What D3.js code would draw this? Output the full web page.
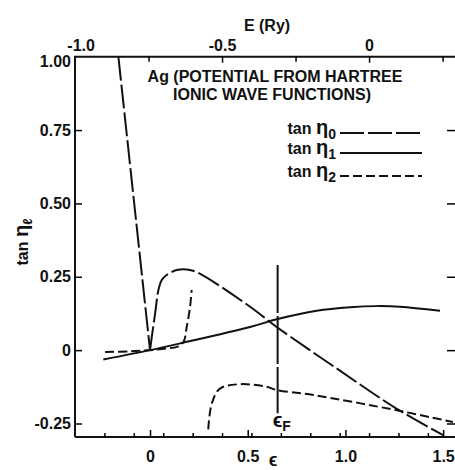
<!DOCTYPE html>
<html>
<head>
<meta charset="utf-8">
<script src="https://cdn.jsdelivr.net/npm/d3@7"></script>
<style>
  body { margin: 0; background: #fff; }
  text { font-family: "Liberation Sans Narrow", "Liberation Sans", Arial, sans-serif; font-weight: bold; fill: #111; }
</style>
</head>
<body>
<div id="chart"></div>
<script>
// tick values and labels
var yTicks = [-0.25, 0, 0.25, 0.5, 0.75, 1.0];
var yTickLabels = ["-0.25", "0", "0.25", "0.50", "0.75", "1.00"];
var epsTicks = [0, 0.5, 1.0, 1.5];
var epsTickLabels = ["0", "0.5", "1.0", "1.5"];
var eTicks = [-1.0, -0.5, 0];
var eTickLabels = ["-1.0", "-0.5", "0"];
var eMinorTop = [-0.75, -0.25, 0.25];
var eMinorBottom = [-0.9, -0.8, -0.7, -0.6, -0.5, -0.4, -0.3, -0.2, -0.1, 0, 0.1, 0.2];
var epsFermi = 0.653;

// curves as [epsilon, tan eta]
var eta0Left = [[-0.162, 1.0], [0, 0]];
var eta0Right = [[0, 0], [0.009, 0.045], [0.026, 0.125], [0.043, 0.205], [0.060, 0.239], [0.085, 0.256],
  [0.137, 0.273], [0.188, 0.275], [0.238, 0.266], [0.512, 0.148], [0.648, 0.079], [0.95, -0.06],
  [1.263, -0.200], [1.5, -0.290]];
var eta1 = [[-0.239, -0.032], [0, 0], [0.154, 0.023], [0.512, 0.079], [0.648, 0.105], [0.853, 0.134],
  [1.024, 0.146], [1.160, 0.150], [1.279, 0.148], [1.484, 0.134]];
var eta2Upper = [[-0.230, -0.006], [-0.1, -0.004], [0, 0], [0.09, 0.006], [0.137, 0.011], [0.171, 0.028],
  [0.188, 0.08], [0.205, 0.148], [0.213, 0.205]];
var eta2Lower = [[0.298, -0.27], [0.316, -0.182], [0.358, -0.131], [0.461, -0.116], [0.597, -0.125],
  [0.648, -0.136], [0.836, -0.153], [1.263, -0.205], [1.55, -0.245]];

var svgWidth = 455;
var svgHeight = 470;

var svg = d3.select("#chart")
  .append("svg")
  .attr("width", svgWidth)
  .attr("height", svgHeight);

var plotLeft = 75, plotRight = 457, plotTop = 56.7, plotBottom = 437;

var x = d3.scaleLinear().domain([-0.384, 1.571]).range([plotLeft, plotRight]);
var xE = d3.scaleLinear().domain([-1.0, 0.299]).range([plotLeft, plotRight]);
var y = d3.scaleLinear().domain([-0.296, 1.0]).range([plotBottom, plotTop]);

// frame
svg.append("path")
  .attr("d", `M${plotLeft},${plotBottom}V${plotTop}H${plotRight}V${plotBottom}H${plotLeft}`)
  .attr("fill", "none")
  .attr("stroke", "#111")
  .attr("stroke-width", 2);

// left axis, ticks pointing in
var leftAxis = d3.axisLeft(y)
  .tickValues(yTicks)
  .tickFormat((d, i) => yTickLabels[i])
  .tickSize(-7)
  .tickSizeOuter(0)
  .tickPadding(4);
var gl = svg.append("g").attr("transform", `translate(${plotLeft},0)`).call(leftAxis);
gl.select(".domain").remove();
gl.selectAll("line").attr("stroke-width", 1.5).filter(d => d === 1.0).remove();
gl.selectAll("text").attr("font-size", "16px").attr("font-family", null)
  .filter(d => d === 1.0).attr("dy", "0.6em");

// right axis: only inward ticks
var rightAxis = d3.axisRight(y).tickValues(yTicks.slice(0, 5)).tickFormat("").tickSize(-10).tickSizeOuter(0);
var gr = svg.append("g").attr("transform", `translate(${plotRight},0)`).call(rightAxis);
gr.select(".domain").remove();
gr.selectAll("line").attr("stroke-width", 1.5);

// bottom axis: epsilon major ticks + minor E ticks
var bottomAxis = d3.axisBottom(x)
  .tickValues(epsTicks)
  .tickFormat((d, i) => epsTickLabels[i])
  .tickSize(-7)
  .tickSizeOuter(0)
  .tickPadding(14);
var gb = svg.append("g").attr("transform", `translate(0,${plotBottom})`).call(bottomAxis);
gb.select(".domain").remove();
gb.selectAll("line").attr("stroke-width", 1.5);
gb.selectAll("text").attr("font-size", "16px").attr("font-family", null);

var bottomMinor = d3.axisBottom(xE).tickValues(eMinorBottom).tickFormat("").tickSize(-4).tickSizeOuter(0);
var gbm = svg.append("g").attr("transform", `translate(0,${plotBottom})`).call(bottomMinor);
gbm.select(".domain").remove();
gbm.selectAll("line").attr("stroke-width", 1.5);

// top axis: E (Ry)
var topAxis = d3.axisTop(xE)
  .tickValues(eTicks)
  .tickFormat((d, i) => eTickLabels[i])
  .tickSize(-6)
  .tickSizeOuter(0)
  .tickPadding(6);
var gt = svg.append("g").attr("transform", `translate(0,${plotTop})`).call(topAxis);
gt.select(".domain").remove();
gt.selectAll("line").attr("stroke-width", 1.5).filter(d => d === -1.0).remove();
gt.selectAll("text").attr("font-size", "16px").attr("font-family", null)
  .filter(d => d === -1.0).attr("dx", "0.35em");

var topMinor = d3.axisTop(xE).tickValues(eMinorTop).tickFormat("").tickSize(-5).tickSizeOuter(0);
var gtm = svg.append("g").attr("transform", `translate(0,${plotTop})`).call(topMinor);
gtm.select(".domain").remove();
gtm.selectAll("line").attr("stroke-width", 1.5);

// axis titles
svg.append("text")
  .attr("x", 267).attr("y", 31)
  .attr("text-anchor", "middle")
  .attr("font-size", "16px")
  .text("E (Ry)");

svg.append("text")
  .attr("x", 273).attr("y", 466)
  .attr("text-anchor", "middle")
  .attr("font-size", "18px")
  .text("ϵ");

var ylab = svg.append("text")
  .attr("transform", "translate(28, 242) rotate(-90)")
  .attr("text-anchor", "middle")
  .attr("font-size", "16px");
ylab.append("tspan").text("tan ");
ylab.append("tspan").attr("font-size", "20px").text("η");
ylab.append("tspan").attr("dy", 4).attr("font-size", "13px").text("ℓ");

// title
svg.append("text")
  .attr("x", 275).attr("y", 82)
  .attr("text-anchor", "middle")
  .attr("font-size", "16px")
  .text("Ag (POTENTIAL FROM HARTREE");
svg.append("text")
  .attr("x", 272).attr("y", 100)
  .attr("text-anchor", "middle")
  .attr("font-size", "16px")
  .text("IONIC WAVE FUNCTIONS)");

// curves
var line = d3.line()
  .x(d => x(d[0]))
  .y(d => y(d[1]))
  .curve(d3.curveCatmullRom.alpha(0.5));

var dash0 = "24,4", dash2 = "9,4";

function drawCurve(data, dash) {
  svg.append("path")
    .datum(data)
    .attr("d", line)
    .attr("fill", "none")
    .attr("stroke", "#111")
    .attr("stroke-width", 2)
    .attr("stroke-dasharray", dash);
}
drawCurve(eta0Left, dash0);
drawCurve(eta0Right, dash0);
drawCurve(eta1, null);
drawCurve(eta2Upper, dash2);
drawCurve(eta2Lower, dash2);

// Fermi level marker
svg.append("line")
  .attr("x1", x(epsFermi)).attr("x2", x(epsFermi))
  .attr("y1", y(0.29)).attr("y2", y(-0.215))
  .attr("stroke", "#111")
  .attr("stroke-width", 2)
  .attr("stroke-dasharray", "48,3");

var ef = svg.append("text")
  .attr("x", x(epsFermi) - 5).attr("y", 427)
  .attr("font-size", "20px");
ef.append("tspan").text("ϵ");
ef.append("tspan").attr("dy", 4).attr("font-size", "14px").text("F");

// legend
var legendNames = ["0", "1", "2"];
var legendDash = [dash0, null, dash2];
var legendY = [133, 153, 176];
legendNames.forEach(function(n, i) {
  var t = svg.append("text")
    .attr("x", 336).attr("y", legendY[i] + 1)
    .attr("text-anchor", "end")
    .attr("font-size", "16px");
  t.append("tspan").text("tan ");
  t.append("tspan").attr("font-size", "20px").text("η");
  t.append("tspan").attr("dy", 5).attr("font-size", "14px").text(n);

  svg.append("line")
    .attr("x1", 340).attr("x2", 422)
    .attr("y1", legendY[i]).attr("y2", legendY[i])
    .attr("stroke", "#111")
    .attr("stroke-width", 2)
    .attr("stroke-dasharray", legendDash[i]);
});
</script>
</body>
</html>
